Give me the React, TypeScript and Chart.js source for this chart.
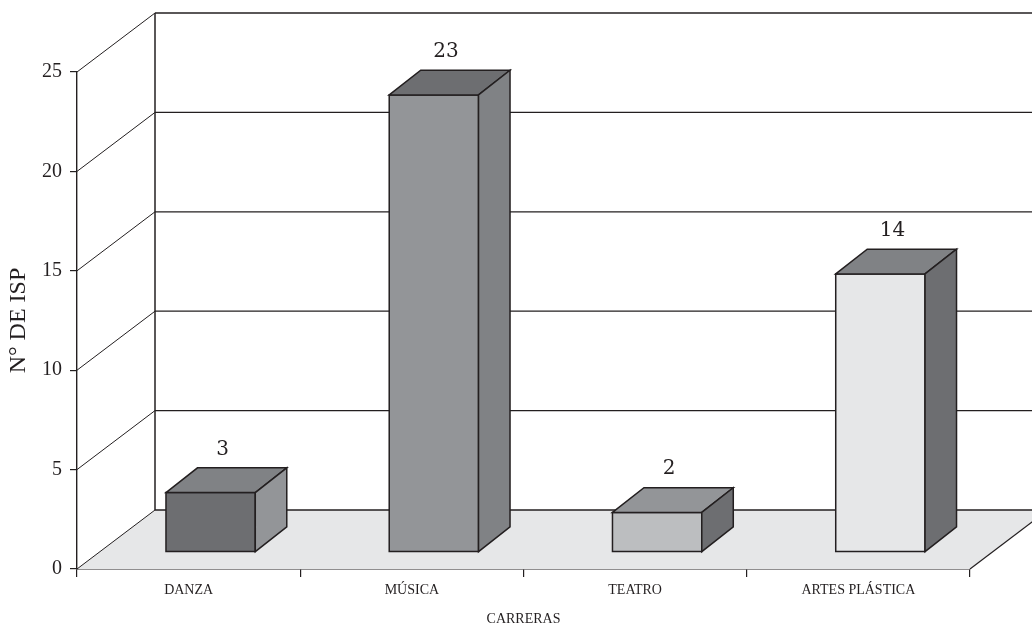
import React, { useEffect, useRef } from "react";
import { Chart, registerables } from "chart.js";

Chart.register(...registerables);

// ---- data ----
const categories = ["DANZA", "MÚSICA", "TEATRO", "ARTES PLÁSTICA"];
const values = [3, 23, 2, 14];
const yMin = 0;
const yMax = 25;
const yStep = 5;
const xTitle = "CARRERAS";
const yTitle = "N° DE ISP";

// ---- styles ----
const frontColors = ["#6d6e71", "#939598", "#bcbec0", "#e6e7e8"];
const topColors = ["#808285", "#6d6e71", "#939598", "#808285"];
const sideColors = ["#939598", "#808285", "#6d6e71", "#6d6e71"];
const INK = "#231f20";
const FLOOR = "#e6e7e8";

// 3D geometry (pixels)
const WALL_DX = 78;
const WALL_DY = -59;
const BAR_OX = 22;
const BAR_OY = -16.8;
const BAR_DX = 31.5;
const BAR_DY = -24.7;

const threeD = {
  id: "threeD",
  beforeDatasetsDraw(chart: any) {
    const { ctx, chartArea: ca, scales } = chart;
    const y = scales.y;
    const y0 = y.getPixelForValue(yMin);
    const yTop = y.getPixelForValue(yMax);
    const W = chart.width;
    ctx.save();
    // floor
    ctx.fillStyle = FLOOR;
    ctx.beginPath();
    ctx.moveTo(ca.left, y0);
    ctx.lineTo(ca.right, y0);
    ctx.lineTo(ca.right + WALL_DX, y0 + WALL_DY);
    ctx.lineTo(ca.left + WALL_DX, y0 + WALL_DY);
    ctx.closePath();
    ctx.fill();

    ctx.strokeStyle = INK;
    // back wall grid lines + diagonals
    for (let v = yMin; v <= yMax; v += yStep) {
      const py = y.getPixelForValue(v);
      ctx.lineWidth = 1.3;
      ctx.beginPath();
      ctx.moveTo(ca.left + WALL_DX, py + WALL_DY);
      ctx.lineTo(W, py + WALL_DY);
      ctx.stroke();
      ctx.lineWidth = 1;
      ctx.beginPath();
      ctx.moveTo(ca.left, py);
      ctx.lineTo(ca.left + WALL_DX, py + WALL_DY);
      ctx.stroke();
    }
    // back wall left edge
    ctx.lineWidth = 1.5;
    ctx.beginPath();
    ctx.moveTo(ca.left + WALL_DX, y0 + WALL_DY);
    ctx.lineTo(ca.left + WALL_DX, yTop + WALL_DY);
    ctx.stroke();
    // floor right edge
    ctx.lineWidth = 1.2;
    ctx.beginPath();
    ctx.moveTo(ca.right, y0);
    ctx.lineTo(ca.right + WALL_DX, y0 + WALL_DY);
    ctx.stroke();
    ctx.restore();
  },
  afterDatasetsDraw(chart: any) {
    const { ctx } = chart;
    const meta = chart.getDatasetMeta(0);
    ctx.save();
    ctx.strokeStyle = INK;
    ctx.lineWidth = 1.5;
    ctx.lineJoin = "miter";
    meta.data.forEach((el: any, i: number) => {
      const p = el.getProps(["x", "y", "base", "width"], true);
      const l = p.x - p.width / 2 + BAR_OX;
      const r = l + p.width;
      const t = p.y + BAR_OY;
      const b = p.base + BAR_OY;
      // front
      ctx.fillStyle = frontColors[i];
      ctx.beginPath();
      ctx.rect(l, t, r - l, b - t);
      ctx.fill();
      ctx.stroke();
      // top
      ctx.fillStyle = topColors[i];
      ctx.beginPath();
      ctx.moveTo(l, t);
      ctx.lineTo(l + BAR_DX, t + BAR_DY);
      ctx.lineTo(r + BAR_DX, t + BAR_DY);
      ctx.lineTo(r, t);
      ctx.closePath();
      ctx.fill();
      ctx.stroke();
      // side
      ctx.fillStyle = sideColors[i];
      ctx.beginPath();
      ctx.moveTo(r, t);
      ctx.lineTo(r + BAR_DX, t + BAR_DY);
      ctx.lineTo(r + BAR_DX, b + BAR_DY);
      ctx.lineTo(r, b);
      ctx.closePath();
      ctx.fill();
      ctx.stroke();
      // value label
      ctx.fillStyle = INK;
      ctx.font = "20px 'DejaVu Serif'";
      ctx.textAlign = "center";
      ctx.textBaseline = "middle";
      ctx.fillText(String(values[i]), (l + r) / 2 + 12, t + BAR_DY - 18.5);
    });
    ctx.restore();
  },
};

export default function App() {
  const ref = useRef<HTMLCanvasElement | null>(null);
  useEffect(() => {
    if (!ref.current) return;
    const chart = new Chart(ref.current, {
      type: "bar",
      data: {
        labels: categories,
        datasets: [
          {
            data: values,
            backgroundColor: "rgba(0,0,0,0)",
            borderWidth: 0,
            barPercentage: 0.8,
            categoryPercentage: 0.5,
          },
        ],
      },
      options: {
        responsive: false,
        animation: false,
        events: [],
        layout: { padding: { top: 72, right: 62, left: 0, bottom: 0 } },
        plugins: {
          legend: { display: false },
          tooltip: { enabled: false },
          title: { display: false },
        },
        scales: {
          x: {
            type: "category",
            grid: {
              offset: true,
              drawOnChartArea: false,
              drawTicks: true,
              tickLength: 8,
              color: INK,
              lineWidth: 1.2,
            },
            border: { display: true, color: INK, width: 1.4 },
            ticks: {
              color: INK,
              padding: 5,
              maxRotation: 0,
              font: { family: "'Liberation Serif'", size: 14 },
            },
            title: {
              display: true,
              text: xTitle,
              color: INK,
              padding: { top: 0, bottom: 0 },
              font: { family: "'Liberation Serif'", size: 14 },
            },
            afterFit: (s: any) => {
              s.height = 59;
            },
          },
          y: {
            type: "linear",
            min: yMin,
            max: yMax,
            grid: {
              drawOnChartArea: false,
              drawTicks: true,
              tickLength: 7,
              color: INK,
              lineWidth: 1.2,
            },
            border: { display: true, color: INK, width: 1.4 },
            ticks: {
              stepSize: yStep,
              color: INK,
              padding: 8,
              font: { family: "'Liberation Serif'", size: 20 },
            },
            title: {
              display: true,
              text: yTitle,
              color: INK,
              padding: { top: 4, bottom: 0 },
              font: { family: "'Liberation Serif'", size: 24 },
            },
            afterFit: (s: any) => {
              s.width = 77;
            },
          },
        },
      },
      plugins: [threeD],
    });
    return () => chart.destroy();
  }, []);
  return (
    <div style={{ position: "absolute", left: 0, top: 0, width: 1032, height: 628, background: "#fff" }}>
      <canvas ref={ref} width={1032} height={628} style={{ width: 1032, height: 628 }} />
    </div>
  );
}
